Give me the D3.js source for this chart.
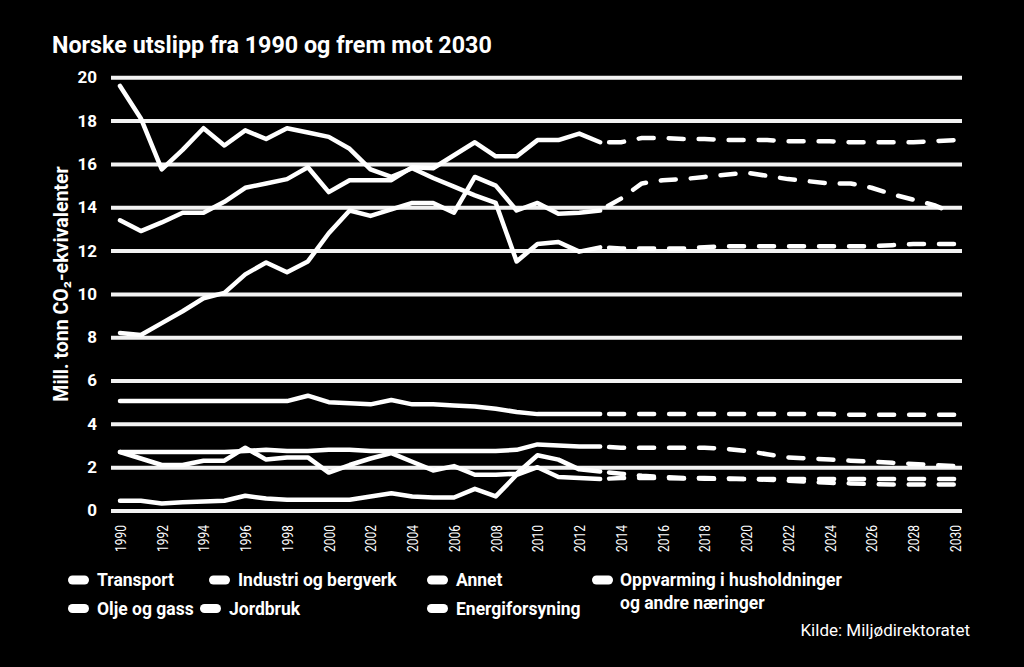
<!DOCTYPE html>
<html><head><meta charset="utf-8">
<script src="https://cdn.jsdelivr.net/npm/d3@7"></script>
<style>
html,body{margin:0;padding:0;background:#000;}
svg{display:block;}
text{font-family:Roboto,"Open Sans",sans-serif;fill:#fff;}
</style></head>
<body>
<svg id="c" width="1024" height="667"></svg>
<script>
const histYears = [1990,1991,1992,1993,1994,1995,1996,1997,1998,1999,2000,2001,2002,2003,2004,2005,2006,2007,2008,2009,2010,2011,2012,2013];
const projYears = [2013,2014,2015,2016,2017,2018,2019,2020,2021,2022,2023,2024,2025,2026,2027,2028,2029,2030];

const transportHist = [13.4,12.9,13.3,13.75,13.75,14.25,14.9,15.1,15.3,15.85,14.7,15.25,15.25,15.25,15.85,15.8,16.4,17.0,16.35,16.35,17.1,17.1,17.4,17.0];
const transportProj = [17.0,17.0,17.2,17.2,17.15,17.15,17.1,17.1,17.1,17.05,17.05,17.05,17.0,17.0,17.0,17.0,17.05,17.1];
const industriHist = [19.6,18.1,15.75,16.65,17.65,16.85,17.55,17.15,17.65,17.45,17.25,16.7,15.75,15.4,15.8,15.35,14.95,14.55,14.2,11.5,12.3,12.4,11.95,12.15];
const industriProj = [12.15,12.1,12.1,12.1,12.1,12.15,12.2,12.2,12.2,12.2,12.2,12.2,12.2,12.2,12.25,12.3,12.3,12.3];
const oljeHist = [8.2,8.1,8.65,9.2,9.8,10.05,10.9,11.45,11.0,11.5,12.8,13.85,13.6,13.9,14.2,14.2,13.75,15.4,15.0,13.85,14.2,13.7,13.75,13.85];
const oljeProj = [13.85,14.4,15.1,15.25,15.3,15.4,15.5,15.6,15.45,15.3,15.2,15.1,15.1,14.9,14.6,14.35,14.1,13.7];
const jordbrukHist = [5.05,5.05,5.05,5.05,5.05,5.05,5.05,5.05,5.05,5.3,5.0,4.95,4.9,5.1,4.9,4.9,4.85,4.8,4.7,4.55,4.45,4.45,4.45,4.45];
const jordbrukProj = [4.45,4.45,4.45,4.45,4.45,4.45,4.45,4.45,4.45,4.45,4.45,4.45,4.42,4.42,4.42,4.42,4.42,4.42];
const annetHist = [2.7,2.7,2.7,2.7,2.7,2.7,2.75,2.8,2.75,2.75,2.8,2.8,2.75,2.75,2.75,2.75,2.75,2.75,2.75,2.8,3.05,3.0,2.95,2.95];
const annetProj = [2.95,2.9,2.9,2.9,2.9,2.9,2.85,2.75,2.6,2.45,2.4,2.35,2.3,2.25,2.2,2.15,2.1,2.05];
const oppvarmingHist = [2.7,2.4,2.1,2.1,2.3,2.3,2.9,2.35,2.45,2.45,1.75,2.1,2.4,2.65,2.25,1.85,2.05,1.65,1.65,1.7,2.55,2.35,1.9,1.8];
const oppvarmingProj = [1.8,1.7,1.6,1.55,1.5,1.5,1.48,1.45,1.42,1.38,1.32,1.28,1.25,1.22,1.2,1.2,1.2,1.2];
const energiHist = [0.45,0.45,0.32,0.38,0.42,0.45,0.68,0.55,0.5,0.5,0.5,0.5,0.65,0.8,0.65,0.6,0.6,1.0,0.65,1.65,2.0,1.55,1.5,1.45];
const energiProj = [1.45,1.5,1.5,1.5,1.48,1.47,1.45,1.45,1.45,1.45,1.45,1.45,1.45,1.45,1.45,1.45,1.45,1.45];

const yTicks = [0,2,4,6,8,10,12,14,16,18,20];
const xTicks = [1990,1992,1994,1996,1998,2000,2002,2004,2006,2008,2010,2012,2014,2016,2018,2020,2022,2024,2026,2028,2030];

const titleText = "Norske utslipp fra 1990 og frem mot 2030";
const yTitle = "Mill. tonn CO₂-ekvivalenter";
const source = "Kilde: Miljødirektoratet";
const legendRow1 = ["Transport","Industri og bergverk","Annet"];
const legendRow2 = ["Olje og gass","Jordbruk","Energiforsyning"];
const legendExtra = ["Oppvarming i husholdninger","og andre næringer"];

const svg = d3.select("#c");
svg.append("rect").attr("width",1024).attr("height",667).attr("fill","#000");

const x = d3.scaleLinear().domain([1990,2030]).range([120,955]);
const y = d3.scaleLinear().domain([0,20]).range([510.5,77.3]);
const gridL = 111, gridR = 962;

// Title
svg.append("text").attr("x",52).attr("y",53).attr("font-size",23.3).attr("font-weight",700)
  .text(titleText);

// Y axis with gridlines
const yAxis = d3.axisLeft(y).tickValues(yTicks).tickSize(-(gridR-gridL)).tickPadding(14).tickFormat(d3.format("d"));
const gy = svg.append("g").attr("transform",`translate(${gridL},0)`).call(yAxis);
gy.select(".domain").remove();
gy.selectAll(".tick line").attr("stroke","#f2f2f2").attr("stroke-width",4);
gy.selectAll(".tick text").attr("font-size",17).attr("font-weight",700).attr("fill","#fff")
  .style("font-family","Roboto, sans-serif");

// Y title
svg.append("text").attr("transform","translate(68,284) rotate(-90)").attr("text-anchor","middle")
  .attr("font-size",19.5).attr("font-weight",700).text(yTitle);

// X axis labels
const xAxis = d3.axisBottom(x).tickValues(xTicks).tickSize(0).tickFormat(d3.format("d"));
const gx = svg.append("g").attr("transform","translate(0,515)").call(xAxis);
gx.select(".domain").remove();
gx.selectAll(".tick text")
  .attr("font-size",15).attr("fill","#fff").style("font-family","Roboto, sans-serif")
  .attr("text-anchor","end").attr("transform","rotate(-90)")
  .attr("x",-10).attr("y",0).attr("dy","0.35em")
  .attr("textLength",27).attr("lengthAdjust","spacingAndGlyphs");

// Lines
const line = d3.line().x(d=>x(d[0])).y(d=>y(d[1]));
const series = [
  [transportHist, transportProj],
  [industriHist, industriProj],
  [oljeHist, oljeProj],
  [jordbrukHist, jordbrukProj],
  [annetHist, annetProj],
  [oppvarmingHist, oppvarmingProj],
  [energiHist, energiProj]
];
const gl = svg.append("g");
series.forEach(([h,p])=>{
  gl.append("path").datum(histYears.map((yr,i)=>[yr,h[i]])).attr("d",line)
    .attr("fill","none").attr("stroke","#fff").attr("stroke-width",4.5)
    .attr("stroke-linejoin","round").attr("stroke-linecap","round");
  gl.append("path").datum(projYears.map((yr,i)=>[yr,p[i]])).attr("d",line)
    .attr("fill","none").attr("stroke","#fff").attr("stroke-width",4.5)
    .attr("stroke-dasharray","15,15").attr("stroke-dashoffset",-9)
    .attr("stroke-linejoin","round").attr("stroke-linecap","round");
});

// Legend
const lg = svg.append("g");
function legItem(px, py, label){
  lg.append("rect").attr("x",px).attr("y",py-4.5).attr("width",21).attr("height",9).attr("rx",4.5).attr("fill","#fff");
  lg.append("text").attr("x",px+29).attr("y",py).attr("dy","0.35em").attr("font-size",17.5).attr("font-weight",700).text(label);
}
const legX = [68,209,427];
legendRow1.forEach((t,i)=>legItem(legX[i],580,t));
const legX2 = [68,200,427];
legendRow2.forEach((t,i)=>legItem(legX2[i],608.5,t));
lg.append("rect").attr("x",592).attr("y",575.5).attr("width",21).attr("height",9).attr("rx",4.5).attr("fill","#fff");
lg.append("text").attr("x",620).attr("y",580).attr("dy","0.35em").attr("font-size",17.5).attr("font-weight",700).text(legendExtra[0]);
lg.append("text").attr("x",620).attr("y",603).attr("dy","0.35em").attr("font-size",17.5).attr("font-weight",700).text(legendExtra[1]);

svg.append("text").attr("x",970).attr("y",636).attr("text-anchor","end").attr("font-size",17).text(source);
</script>
</body></html>
